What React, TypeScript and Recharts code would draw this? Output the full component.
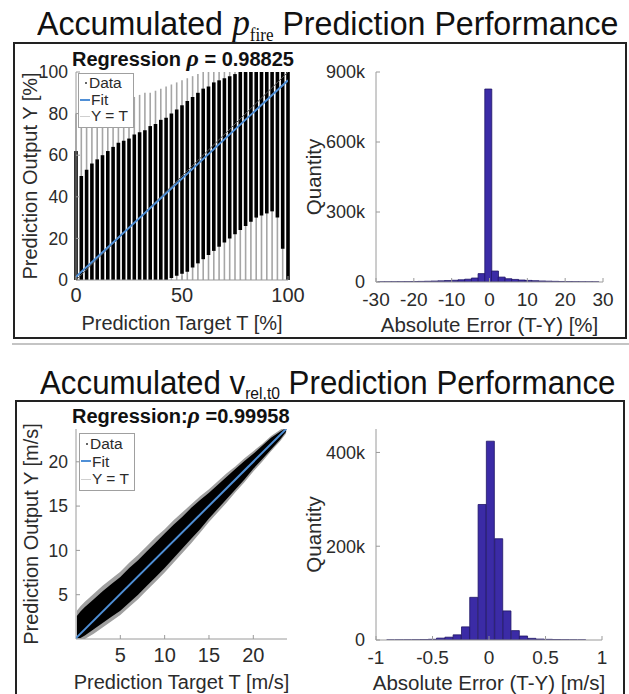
import React from 'react';
import { ComposedChart, Scatter, ErrorBar, XAxis, YAxis, Area, Bar } from 'recharts';

const SANS = '"Liberation Sans", Arial, Helvetica, sans-serif';
const SERIF = '"Liberation Serif", "Times New Roman", serif';
const INK = '#2b2b2b';
const FRAME = '#9a9a9a';
const FIT = '#4f8fd6';
const BAR = '#3b2ba6';
const BAR_EDGE = '#1f1566';

// p_fire regression: targets are quantised, so the cloud is a set of vertical stripes
const fireTargets = [0, 2.5, 5, 7.5, 10, 12.5, 15, 17.5, 20, 22.5, 25, 27.5, 30, 32.5, 35, 37.5, 40, 42.5, 45, 47.5, 50, 52.5, 55, 57.5, 60, 62.5, 65, 67.5, 70, 72.5, 75, 77.5, 80, 82.5, 85, 87.5, 90, 92.5, 95, 97.5, 100];
const fireDenseLo = [0, 0, 0, 0, 0, 0, 0, 0, 0, 0, 0, 0, 0, 0, 0, 0, 0, 0, 1, 2, 3, 4, 6, 8, 10, 12, 14, 16, 18, 20, 22, 24, 26, 28, 30, 31, 32, 33, 30, 15, 0];
const fireDenseHi = [62, 50, 53, 56, 58, 60, 62, 64, 66, 67, 68, 70, 71, 72, 74, 75, 77, 78, 80, 82, 84, 86, 88, 90, 92, 93, 95, 96, 97, 98, 99, 100, 100, 100, 100, 100, 100, 100, 100, 100, 100];
const fireSparseHi = [80, 76, 77, 78, 80, 81, 82, 84, 85, 86, 87, 88, 89, 90, 90, 91, 92, 93, 94, 95, 96, 97, 98, 99, 100, 100, 100, 100, 100, 100, 100, 100, 100, 100, 100, 100, 100, 100, 100, 100, 100];
const fireFit = [{ x: 0, y: 1.5 }, { x: 100, y: 96 }];
const fireIdentity = [{ x: 0, y: 0 }, { x: 100, y: 100 }];
const fireXTicks = [0, 50, 100];
const fireYTicks = [0, 20, 40, 60, 80, 100];

// v_rel,t0 regression: tight band round the diagonal
const velTargets = [0.1, 0.5, 1, 2, 3, 4, 5, 6, 7, 8, 9, 10, 11, 12, 13, 14, 15, 16, 17, 18, 19, 20, 21, 22, 23, 23.7];
const velLo = [0.1, 0.1, 0.4, 1.1, 1.8, 2.5, 3.2, 4.1, 5.0, 6.0, 7.0, 8.0, 9.1, 10.2, 11.3, 12.4, 13.6, 14.7, 15.8, 16.9, 18.0, 19.2, 20.3, 21.4, 22.5, 23.4];
const velHi = [2.6, 3.1, 3.6, 4.5, 5.4, 6.2, 7.0, 8.0, 8.9, 9.9, 10.9, 11.9, 12.9, 13.8, 14.8, 15.7, 16.5, 17.4, 18.3, 19.2, 20.1, 20.9, 21.8, 22.7, 23.4, 23.8];
const velSparseLo = [0, 0, 0, 0.6, 1.3, 2.0, 2.7, 3.6, 4.5, 5.5, 6.5, 7.5, 8.6, 9.7, 10.8, 12.0, 13.2, 14.3, 15.4, 16.6, 17.7, 18.9, 20.0, 21.2, 22.3, 23.2];
const velSparseHi = [3.2, 3.7, 4.2, 5.1, 6.0, 6.8, 7.6, 8.6, 9.5, 10.5, 11.5, 12.4, 13.4, 14.3, 15.2, 16.1, 16.9, 17.8, 18.7, 19.5, 20.4, 21.2, 22.0, 22.9, 23.6, 24];
const velFit = [{ x: 0, y: 0.1 }, { x: 23.8, y: 23.8 }];
const velTicks = [5, 10, 15, 20];

// error histograms
const fireErrBins = [-28.68, -26.91, -25.14, -23.37, -21.6, -19.83, -18.06, -16.29, -14.52, -12.75, -10.98, -9.21, -7.44, -5.67, -3.9, -2.13, -0.36, 1.41, 3.18, 4.95, 6.72, 8.49, 10.26, 12.03, 13.8, 15.57, 17.34, 19.11, 20.88, 22.65, 24.42, 26.19, 27.96];
const fireErrCounts = [500, 700, 900, 1200, 1500, 2000, 2500, 3200, 4000, 5000, 6200, 7500, 9500, 12000, 17000, 36000, 827000, 47000, 21000, 14000, 11000, 8500, 6800, 5500, 4400, 3500, 2800, 2200, 1700, 1300, 1000, 750, 550];
const fireErrTicks = [-30, -20, -10, 0, 10, 20, 30];
const fireCountTicks = [0, 300000, 600000, 900000];

const velErrBins = [-0.869, -0.795, -0.722, -0.648, -0.575, -0.501, -0.428, -0.354, -0.281, -0.207, -0.134, -0.06, 0.013, 0.087, 0.16, 0.234, 0.307, 0.381, 0.454, 0.528, 0.601, 0.675, 0.748, 0.822];
const velErrCounts = [150, 250, 350, 500, 900, 1500, 4000, 6000, 11000, 28000, 91000, 289000, 424000, 216000, 62000, 20000, 8500, 3500, 2000, 1400, 800, 500, 300, 200];
const velErrTicks = [-1, -0.5, 0, 0.5, 1];
const velCountTicks = [0, 200000, 400000];

const legendItems = ['Data', 'Fit', 'Y = T'];

const tickFont = (size: number) => ({ fontSize: size, fill: INK, fontFamily: SANS });
const blank = () => '';
const kFormat = (v: number) => (v === 0 ? '0' : `${v / 1000}k`);
const NoDot = () => <g />;

const xTitle = (text: string, dy: number, size: number) => ({
  content: (p: any) => {
    const vb = p.viewBox;
    return (
      <text x={vb.x + vb.width / 2} y={vb.y + dy} textAnchor="middle" dominantBaseline="central" fontSize={size} fill={INK} fontFamily={SANS}>
        {text}
      </text>
    );
  },
});

const yTitle = (text: string, dx: number, size: number) => ({
  content: (p: any) => {
    const vb = p.viewBox;
    return (
      <text transform={`translate(${vb.x + dx},${vb.y + vb.height / 2}) rotate(-90)`} textAnchor="middle" dominantBaseline="central" fontSize={size} fill={INK} fontFamily={SANS}>
        {text}
      </text>
    );
  },
});

function RegLegend({ left, top, rowH }: { left: number; top: number; rowH: number }) {
  return (
    <div style={{ position: 'absolute', left, top, width: 54, height: rowH * 3 + 3, border: '1px solid #a0a0a0', background: '#fff', fontFamily: SANS, fontSize: 15.5, color: INK }}>
      {legendItems.map((name, i) => (
        <div key={name} style={{ position: 'absolute', left: 0, top: 1 + i * rowH, height: rowH, width: 80, lineHeight: `${rowH}px`, whiteSpace: 'nowrap' }}>
          {i === 0 && <span style={{ position: 'absolute', left: 6, top: rowH / 2 - 1, width: 2, height: 2, background: '#666' }} />}
          {i === 1 && <span style={{ position: 'absolute', left: 1, top: rowH / 2 - 1, width: 10, height: 2, background: FIT }} />}
          {i === 2 && <span style={{ position: 'absolute', left: 1, top: rowH / 2, width: 10, height: 1, background: '#cfcfcf' }} />}
          <span style={{ position: 'absolute', left: i === 0 ? 10 : 12 }}>{name}</span>
        </div>
      ))}
    </div>
  );
}

function RegTitle({ left, top, label, value }: { left: number; top: number; label: string; value: string }) {
  return (
    <div style={{ position: 'absolute', left, top, fontFamily: SANS, fontWeight: 'bold', fontSize: 20, lineHeight: '20px', whiteSpace: 'nowrap', color: '#111' }}>
      {label}
      <span style={{ fontFamily: SERIF, fontStyle: 'italic', fontSize: 24 }}>ρ</span>
      {value}
    </div>
  );
}

function FireScatter() {
  const sparse = fireTargets.map((x, i) => ({ x, y: fireSparseHi[i] / 2, err: fireSparseHi[i] / 2 }));
  const dense = fireTargets.map((x, i) => ({ x, y: (fireDenseLo[i] + fireDenseHi[i]) / 2, err: (fireDenseHi[i] - fireDenseLo[i]) / 2 }));
  return (
    <div style={{ position: 'absolute', left: 0, top: 42 }}>
      <ComposedChart width={320} height={296} margin={{ top: 30, right: 32, bottom: 0, left: 0 }}>
        <XAxis type="number" dataKey="x" domain={[0, 100]} ticks={fireXTicks} allowDataOverflow height={58} stroke={FRAME} tickSize={-4} tickMargin={12} tick={tickFont(20)} interval={0} label={xTitle('Prediction Target T [%]', 43, 20)} />
        <YAxis type="number" dataKey="y" domain={[0, 100]} ticks={fireYTicks} allowDataOverflow width={76} stroke={FRAME} tickSize={-4} tickMargin={12} tick={tickFont(17.5)} interval={0} label={yTitle('Prediction Output Y [%]', 30, 20)} />
        <XAxis xAxisId="top" orientation="top" type="number" domain={[0, 100]} ticks={fireXTicks} allowDataOverflow height={0} stroke={FRAME} tickSize={-4} tickFormatter={blank} />
        <YAxis yAxisId="right" orientation="right" type="number" domain={[0, 100]} ticks={fireYTicks} allowDataOverflow width={0} stroke={FRAME} tickSize={-4} tickFormatter={blank} />
        <Scatter data={sparse} shape={NoDot} isAnimationActive={false}>
          <ErrorBar dataKey="err" direction="y" width={0} stroke="#a6a6a6" strokeWidth={1.6} isAnimationActive={false} />
        </Scatter>
        <Scatter data={dense} shape={NoDot} isAnimationActive={false}>
          <ErrorBar dataKey="err" direction="y" width={0} stroke="#000" strokeWidth={3.6} isAnimationActive={false} />
        </Scatter>
        <Scatter data={fireIdentity} shape={NoDot} line={{ stroke: '#555', strokeWidth: 1 }} isAnimationActive={false} />
        <Scatter data={fireFit} shape={NoDot} line={{ stroke: FIT, strokeWidth: 2 }} isAnimationActive={false} />
      </ComposedChart>
    </div>
  );
}

function VelScatter() {
  const rows = velTargets.map((x, i) => ({ x, core: [velLo[i], velHi[i]], halo: [velSparseLo[i], velSparseHi[i]] }));
  return (
    <div style={{ position: 'absolute', left: 0, top: 400 }}>
      <ComposedChart width={300} height={294} data={rows} margin={{ top: 29, right: 13, bottom: 0, left: 0 }}>
        <XAxis type="number" dataKey="x" domain={[0, 23.8]} ticks={velTicks} allowDataOverflow height={55} stroke={FRAME} tickSize={-4} tickMargin={13} tick={tickFont(20)} interval={0} label={xTitle('Prediction Target T [m/s]', 43, 20)} />
        <YAxis type="number" dataKey="y" domain={[0, 23.7]} ticks={velTicks} allowDataOverflow width={76} stroke={FRAME} tickSize={-4} tickMargin={12} tick={tickFont(17.5)} interval={0} label={yTitle('Prediction Output Y [m/s]', 31, 20)} />
        <XAxis xAxisId="top" orientation="top" type="number" domain={[0, 23.8]} ticks={velTicks} allowDataOverflow height={0} stroke={FRAME} tickSize={-4} tickFormatter={blank} />
        <YAxis yAxisId="right" orientation="right" type="number" domain={[0, 23.7]} ticks={velTicks} allowDataOverflow width={0} stroke={FRAME} tickSize={-4} tickFormatter={blank} />
        <Area dataKey="halo" type="linear" stroke="none" fill="#a0a0a0" fillOpacity={1} isAnimationActive={false} />
        <Area dataKey="core" type="linear" stroke="none" fill="#000" fillOpacity={1} isAnimationActive={false} />
        <Scatter data={velFit} shape={NoDot} line={{ stroke: FIT, strokeWidth: 2 }} isAnimationActive={false} />
      </ComposedChart>
    </div>
  );
}

function Histogram(props: {
  left: number; top: number; width: number; height: number; mTop: number; mRight: number; xAxisH: number;
  bins: number[]; counts: number[]; xDomain: number[]; xTicks: number[]; yDomain: number[]; yTicks: number[]; xLabel: string;
}) {
  const rows = props.bins.map((x, i) => ({ x, n: props.counts[i] }));
  return (
    <div style={{ position: 'absolute', left: props.left, top: props.top }}>
      <ComposedChart width={props.width} height={props.height} data={rows} margin={{ top: props.mTop, right: props.mRight, bottom: 0, left: 0 }} barCategoryGap={0} barGap={0}>
        <XAxis type="number" dataKey="x" domain={props.xDomain} ticks={props.xTicks} allowDataOverflow height={props.xAxisH} stroke={FRAME} tickSize={-4} tickMargin={15} tick={tickFont(19)} interval={0} label={xTitle(props.xLabel, 42, 20.5)} />
        <YAxis type="number" domain={props.yDomain} ticks={props.yTicks} allowDataOverflow width={76} stroke={FRAME} tickSize={-4} tickMargin={15} tick={tickFont(18)} interval={0} tickFormatter={kFormat} label={yTitle('Quantity', 13, 20.5)} />
        <XAxis xAxisId="top" orientation="top" type="number" domain={props.xDomain} ticks={props.xTicks} allowDataOverflow height={0} stroke={FRAME} tickSize={-4} tickFormatter={blank} />
        <YAxis yAxisId="right" orientation="right" type="number" domain={props.yDomain} ticks={props.yTicks} allowDataOverflow width={0} stroke={FRAME} tickSize={-4} tickFormatter={blank} />
        <Bar dataKey="n" fill={BAR} stroke={BAR_EDGE} strokeWidth={0.8} isAnimationActive={false} />
      </ComposedChart>
    </div>
  );
}

export default function App() {
  return (
    <div style={{ position: 'absolute', left: 0, top: 0, width: 629, height: 694, overflow: 'hidden', background: '#fff', fontFamily: SANS }}>
      <div style={{ position: 'absolute', left: 37, top: 3, fontSize: 34, lineHeight: '38px', whiteSpace: 'nowrap', color: '#111', transform: 'scaleX(0.946)', transformOrigin: '0 0' }}>
        Accumulated <span style={{ fontFamily: SERIF, fontStyle: 'italic', fontSize: 38 }}>p</span>
        <span style={{ fontFamily: SERIF, fontSize: 18, position: 'relative', top: 6 }}>fire</span> Prediction Performance
      </div>
      <div style={{ position: 'absolute', left: 13, top: 42, width: 610, height: 293, border: '2px solid #222' }} />
      <div style={{ position: 'absolute', left: 12, top: 343, width: 617, height: 2, background: '#c4c4c4' }} />

      <div style={{ position: 'absolute', left: 40, top: 363, fontSize: 34, lineHeight: '38px', whiteSpace: 'nowrap', color: '#111', transform: 'scaleX(0.92)', transformOrigin: '0 0' }}>
        Accumulated v<span style={{ fontSize: 17, position: 'relative', top: 5 }}>rel,t0</span> Prediction Performance
      </div>
      <div style={{ position: 'absolute', left: 15, top: 400, width: 606, height: 320, border: '2px solid #222' }} />

      <FireScatter />
      <Histogram left={300} top={42} width={326} height={296} mTop={30} mRight={23} xAxisH={56}
        bins={fireErrBins} counts={fireErrCounts} xDomain={[-30, 30]} xTicks={fireErrTicks}
        yDomain={[0, 900000]} yTicks={fireCountTicks} xLabel="Absolute Error (T-Y) [%]" />
      <RegTitle left={72} top={48} label="Regression " value=" = 0.98825" />
      <RegLegend left={78} top={73} rowH={16.5} />

      <VelScatter />
      <Histogram left={300} top={400} width={326} height={294} mTop={29} mRight={24} xAxisH={54}
        bins={velErrBins} counts={velErrCounts} xDomain={[-1, 1]} xTicks={velErrTicks}
        yDomain={[0, 450000]} yTicks={velCountTicks} xLabel="Absolute Error (T-Y) [m/s]" />
      <RegTitle left={72} top={405} label="Regression:" value=" =0.99958" />
      <RegLegend left={79} top={433} rowH={17.5} />
    </div>
  );
}
